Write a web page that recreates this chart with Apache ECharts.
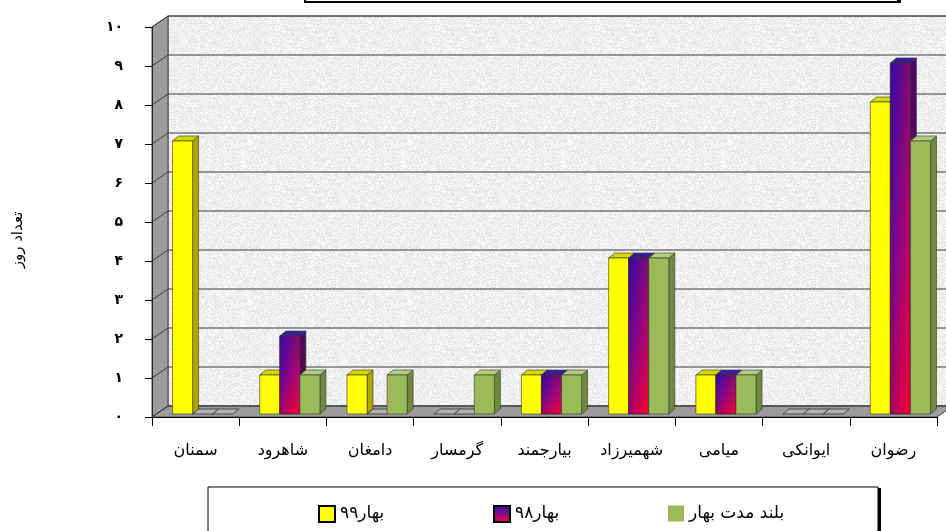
<!DOCTYPE html>
<html>
<head>
<meta charset="utf-8">
<script src="https://cdn.jsdelivr.net/npm/echarts@6/dist/echarts.min.js"></script>
<style>
html, body { margin: 0; padding: 0; background: #fff; }
#chart { width: 946px; height: 531px; }
</style>
</head>
<body>
<div id="chart"></div>
<script>
// 数据
var categories = ['سمنان', 'شاهرود', 'دامغان', 'گرمسار', 'بیارجمند', 'شهمیرزاد', 'میامی', 'ایوانکی', 'رضوان'];
var spring99 = [7, 1, 1, 0, 1, 4, 1, 0, 8];
var spring98 = [0, 2, 0, 0, 1, 4, 1, 0, 9];
var springLongTerm = [0, 1, 1, 1, 1, 4, 1, 0, 7];
var yTickLabels = ['۰', '۱', '۲', '۳', '۴', '۵', '۶', '۷', '۸', '۹', '۱۰'];
var seriesNames = ['بهار۹۹', 'بهار۹۸', 'بلند مدت بهار'];
var yAxisName = 'تعداد روز';

// 3D 效果参数
var WALL_DX = 16, WALL_DY = -11;
var BAR_SHIFT_X = 7, BAR_SHIFT_Y = -3;
var BAR_DX = 6, BAR_DY = -5;
var BAR_RATIO = 0.23;
var FONT = 'DejaVu Sans';

function purpleFront() {
    return new echarts.graphic.LinearGradient(0, 0, 0, 1, [
        {offset: 0, color: '#2a10a8'},
        {offset: 0.5, color: '#8a0a90'},
        {offset: 1, color: '#ff0030'}
    ]);
}
function purpleOverlay() {
    return new echarts.graphic.LinearGradient(0, 0, 1, 0, [
        {offset: 0, color: 'rgba(50,0,170,0.45)'},
        {offset: 1, color: 'rgba(255,0,50,0.45)'}
    ]);
}

var faces = [
    {front: '#ffff00', top: '#d6d600', side: '#a9a900'},
    {front: purpleFront(), overlay: purpleOverlay(), top: '#3a1a9a', side: new echarts.graphic.LinearGradient(0, 0, 0, 1, [
        {offset: 0, color: '#4a0a6a'}, {offset: 1, color: '#700030'}])},
    {front: '#9bbb59', top: '#b2cc7c', side: '#6e8b3d'}
];

// 背景纹理
function makeTexture() {
    var size = 160;
    var c = document.createElement('canvas');
    c.width = size;
    c.height = size;
    var ctx = c.getContext('2d');
    var img = ctx.createImageData(size, size);
    var seed = 2463534242;
    for (var p = 0; p < size * size; p++) {
        seed ^= seed << 13; seed >>>= 0;
        seed ^= seed >>> 17;
        seed ^= seed << 5; seed >>>= 0;
        var g = 226 + (seed % 28);
        img.data[p * 4] = g;
        img.data[p * 4 + 1] = g;
        img.data[p * 4 + 2] = g;
        img.data[p * 4 + 3] = 255;
    }
    ctx.putImageData(img, 0, 0);
    return c;
}
var texture = makeTexture();

function renderWalls(params, api) {
    var cs = params.coordSys;
    var x = cs.x, y = cs.y, w = cs.width, h = cs.height;
    var children = [];
    children.push({
        type: 'polygon',
        shape: {points: [[x + WALL_DX, y + WALL_DY], [x + w + WALL_DX, y + WALL_DY], [x + w + WALL_DX, y + h + WALL_DY], [x + WALL_DX, y + h + WALL_DY]]},
        style: {fill: {image: texture, repeat: 'repeat'}, stroke: '#555', lineWidth: 1}
    });
    children.push({
        type: 'polygon',
        shape: {points: [[x, y], [x + WALL_DX, y + WALL_DY], [x + WALL_DX, y + h + WALL_DY], [x, y + h]]},
        style: {fill: '#9c9c9c', stroke: '#444', lineWidth: 1}
    });
    children.push({
        type: 'polygon',
        shape: {points: [[x, y + h], [x + WALL_DX, y + h + WALL_DY], [x + w + WALL_DX, y + h + WALL_DY], [x + w, y + h]]},
        style: {fill: '#9c9c9c', stroke: '#444', lineWidth: 1}
    });
    for (var v = 0; v < yTickLabels.length; v++) {
        var yv = api.coord([0, v])[1];
        children.push({
            type: 'polyline',
            shape: {points: [[x, yv], [x + WALL_DX, yv + WALL_DY], [x + w + WALL_DX, yv + WALL_DY]]},
            style: {fill: null, stroke: '#3a3a3a', lineWidth: 1}
        });
    }
    return {type: 'group', children: children};
}

function makeBarRenderer(k) {
    var f = faces[k];
    return function (params, api) {
        var idx = api.value(0);
        var v = api.value(1);
        var base = api.coord([idx, 0]);
        var top = api.coord([idx, v]);
        var bw = api.size([1, 0])[0];
        var w = bw * BAR_RATIO;
        var x0 = base[0] - 1.5 * w + k * w + BAR_SHIFT_X;
        var x1 = x0 + w;
        var yb = base[1] + BAR_SHIFT_Y;
        var yt = top[1] + BAR_SHIFT_Y;
        var topFace = [[x0, yt], [x0 + BAR_DX, yt + BAR_DY], [x1 + BAR_DX, yt + BAR_DY], [x1, yt]];
        if (v === 0) {
            return {
                type: 'polygon',
                shape: {points: topFace},
                style: {fill: 'rgba(200,200,200,0.5)', stroke: '#333', lineWidth: 0.8}
            };
        }
        var sideFace = [[x1, yt], [x1 + BAR_DX, yt + BAR_DY], [x1 + BAR_DX, yb + BAR_DY], [x1, yb]];
        var children = [
            {type: 'polygon', shape: {points: sideFace}, style: {fill: f.side, stroke: '#333', lineWidth: 0.6}},
            {type: 'polygon', shape: {points: topFace}, style: {fill: f.top, stroke: '#333', lineWidth: 0.6}},
            {type: 'rect', shape: {x: x0, y: yt, width: w, height: yb - yt}, style: {fill: f.front, stroke: '#333', lineWidth: 0.6}}
        ];
        if (f.overlay) {
            children.push({type: 'rect', shape: {x: x0, y: yt, width: w, height: yb - yt}, style: {fill: f.overlay, stroke: '#333', lineWidth: 0.6}});
        }
        return {type: 'group', children: children};
    };
}

function toPairs(arr) {
    return arr.map(function (v, i) { return [i, v]; });
}

function legendItem(name, left, bordered) {
    return {
        data: [{name: name, itemStyle: bordered ? {borderColor: '#000', borderWidth: 2} : {borderWidth: 0}}],
        left: left,
        top: 500,
        icon: 'rect',
        itemWidth: 16,
        itemHeight: 16,
        itemGap: 8,
        selectedMode: false,
        textStyle: {fontFamily: FONT, fontSize: 17, color: '#000'}
    };
}

// 带阴影的框
function shadowBox(x, y, w, h, lw) {
    return [
        {type: 'rect', z: 0, shape: {x: x + 3, y: y + 1, width: w, height: h}, style: {fill: '#000'}},
        {type: 'rect', z: 1, shape: {x: x, y: y, width: w, height: h}, style: {fill: '#fff', stroke: '#000', lineWidth: lw}}
    ];
}

var chart = echarts.init(document.getElementById('chart'));
var option = {
    animation: false,
    backgroundColor: '#fff',
    grid: {left: 152, right: 9, top: 27, bottom: 114, containLabel: false, outerBoundsMode: 'none'},
    legend: [
        legendItem(seriesNames[0], 313, true),
        legendItem(seriesNames[1], 488, true),
        legendItem(seriesNames[2], 663, false)
    ],
    graphic: shadowBox(305, -30, 593, 32, 2).concat(shadowBox(208, 487, 670, 60, 1)).concat([
        {
            type: 'text', z: 5,
            x: 18, y: 240,
            rotation: Math.PI / 2,
            style: {
                text: yAxisName, fontFamily: FONT, fontSize: 15, fill: '#000',
                align: 'center', verticalAlign: 'middle'
            }
        }
    ]),
    xAxis: {
        type: 'category',
        data: categories,
        z: 10,
        axisLine: {show: true, lineStyle: {color: '#000', width: 1}},
        axisTick: {show: true, length: 9, lineStyle: {color: '#000'}},
        axisLabel: {fontFamily: FONT, fontSize: 16, color: '#000', margin: 26, interval: 0},
        splitLine: {show: false}
    },
    yAxis: {
        type: 'value',
        min: 0,
        max: 10,
        interval: 1,
        z: 10,
        axisLine: {show: true, lineStyle: {color: '#222', width: 1}},
        axisTick: {show: true, length: 7, lineStyle: {color: '#000'}},
        axisLabel: {
            fontFamily: FONT, fontSize: 14, fontWeight: 'bold', color: '#000', margin: 29,
            formatter: function (v) { return yTickLabels[v]; }
        },
        splitLine: {show: false}
    },
    series: [
        {
            type: 'custom',
            name: 'walls',
            z: 1,
            silent: true,
            data: [[0, 0]],
            encode: {x: 0, y: 1},
            renderItem: renderWalls
        },
        {
            type: 'custom',
            name: seriesNames[0],
            z: 3,
            itemStyle: {color: '#ffff00'},
            data: toPairs(spring99),
            encode: {x: 0, y: 1},
            renderItem: makeBarRenderer(0)
        },
        {
            type: 'custom',
            name: seriesNames[1],
            z: 3,
            itemStyle: {color: purpleFront()},
            data: toPairs(spring98),
            encode: {x: 0, y: 1},
            renderItem: makeBarRenderer(1)
        },
        {
            type: 'custom',
            name: seriesNames[2],
            z: 3,
            itemStyle: {color: '#9bbb59'},
            data: toPairs(springLongTerm),
            encode: {x: 0, y: 1},
            renderItem: makeBarRenderer(2)
        }
    ]
};
chart.setOption(option);
</script>
</body>
</html>
